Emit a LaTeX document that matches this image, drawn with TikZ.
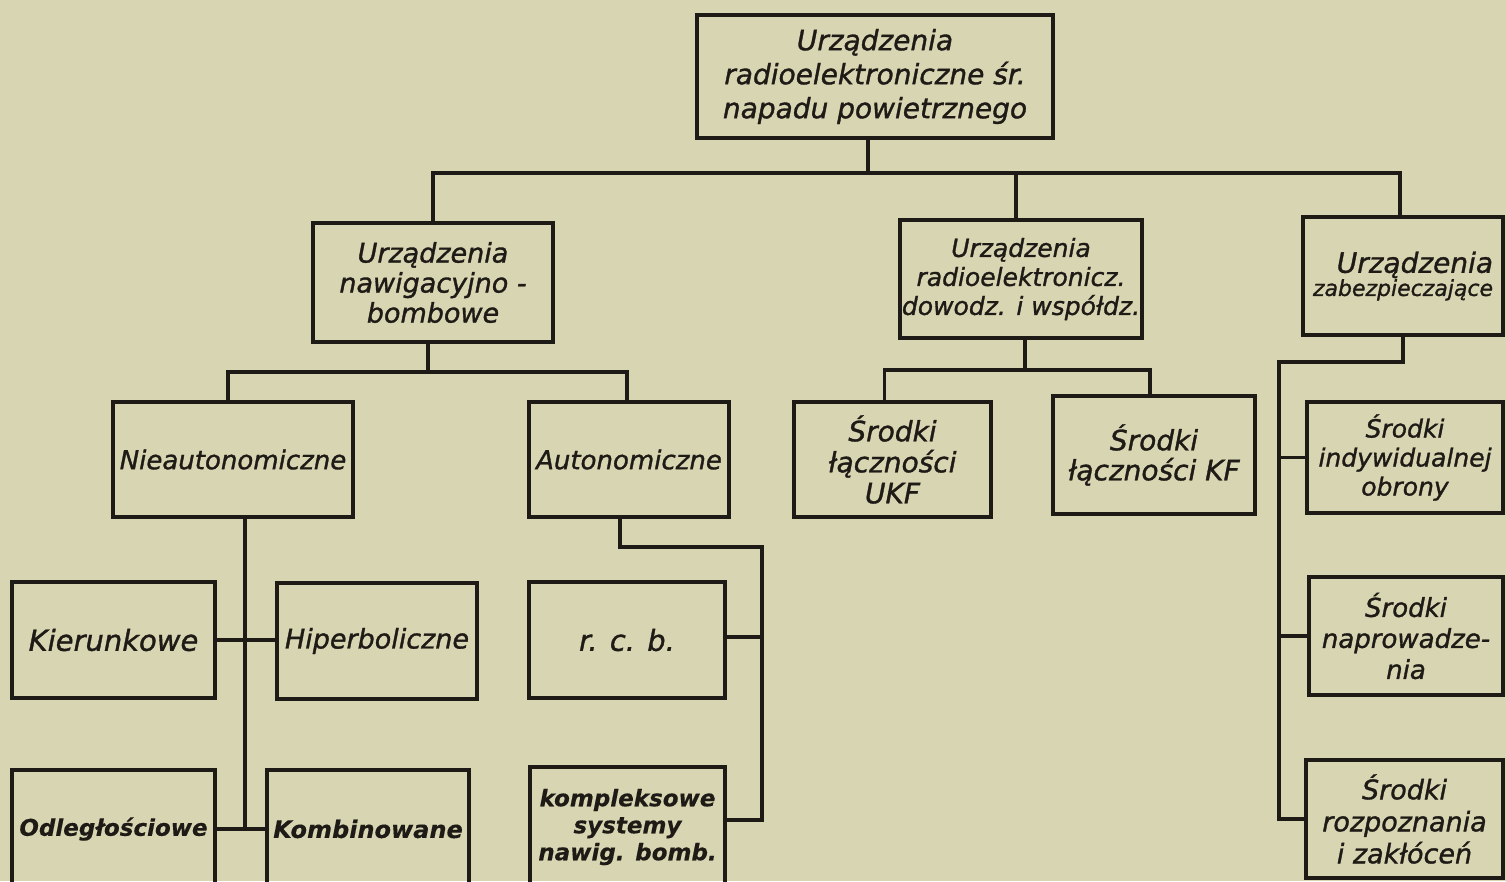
\documentclass[tikz,border=0pt]{standalone}
\usepackage{fontspec}
\setmainfont{DejaVu Sans}[ItalicFeatures={FakeBold=1.2}, BoldItalicFeatures={FakeBold=0.3}]
\usetikzlibrary{calc}
\definecolor{paper}{RGB}{216,214,178}
\definecolor{ink}{RGB}{30,26,22}
\newcommand{\fs}[2]{\fontsize{#1}{#2}\selectfont}
\begin{document}
\begin{tikzpicture}[x=1pt,y=-1pt,
  box/.style={draw=ink, line width=3.2pt, inner sep=0pt, outer sep=0pt, align=center, text=ink},
  link/.style={draw=ink, line width=3.2pt, line cap=rect}]
\fill[paper] (0,0) rectangle (1506,881);
\useasboundingbox (0,0) rectangle (1506,881);
\clip (0,0) rectangle (1506,881);

% level 0
\node[box, minimum width=356pt, minimum height=123pt, font=\itshape\fs{28}{34}] (top) at (875,76.5)
  {Urządzenia\\radioelektroniczne śr.\\napadu powietrznego};

% level 1
\node[box, minimum width=240pt, minimum height=119pt, font=\itshape\fs{27}{30}] (nawig) at (433,282.5)
  {Urządzenia\\nawigacyjno -\\bombowe};
\node[box, minimum width=242pt, minimum height=118pt, font=\itshape\fs{25}{29}] (dowodz) at (1021,279)
  {Urządzenia\\radioelektronicz.\\dowodz. i współdz.};
\node[box, minimum width=200pt, minimum height=118pt, font=\itshape, align=right] (zabezp) at (1403,276)
  {{\fs{28}{30}Urządzenia}\\{\fs{22}{28}zabezpieczające}};

% level 2 (nawig)
\node[box, minimum width=240pt, minimum height=115pt, font=\itshape\fs{26}{30}] (nieaut) at (233,459.5)
  {Nieautonomiczne};
\node[box, minimum width=200pt, minimum height=115pt, font=\itshape\fs{26}{30}] (autonom) at (629,459.5)
  {Autonomiczne};

% level 2 (dowodz)
\node[box, minimum width=197pt, minimum height=115pt, font=\itshape\fs{28}{31}] (ukf) at (892.5,459.5)
  {Środki\\łączności\\UKF};
\node[box, minimum width=202pt, minimum height=118pt, font=\itshape\fs{28}{30}] (kf) at (1154,455)
  {Środki\\łączności KF};

% level 2 (zabezp)
\node[box, minimum width=196pt, minimum height=111pt, font=\itshape\fs{25}{29}] (indyw) at (1405,457.5)
  {Środki\\indywidualnej\\obrony};
\node[box, minimum width=194pt, minimum height=118pt, font=\itshape\fs{26}{31}] (naprow) at (1406,636)
  {Środki\\naprowadze-\\nia};
\node[box, minimum width=197pt, minimum height=118pt, font=\itshape\fs{27}{32}] (rozp) at (1404.5,819)
  {Środki\\rozpoznania\\i zakłóceń};

% level 3 (nieaut)
\node[box, minimum width=203pt, minimum height=116pt, font=\itshape\fs{29}{30}] (kier) at (113.5,640)
  {Kierunkowe};
\node[box, minimum width=200pt, minimum height=116pt, font=\itshape\fs{27}{30}] (hiper) at (377,641)
  {Hiperboliczne};
\node[box, minimum width=203pt, minimum height=118pt, font=\bfseries\itshape\fs{23}{30}] (odl) at (113.5,829)
  {Odległościowe};
\node[box, minimum width=202pt, minimum height=118pt, font=\bfseries\itshape\fs{24}{30}] (kombin) at (368,829)
  {Kombinowane};

% level 3 (autonom)
\node[box, minimum width=196pt, minimum height=116pt, font=\itshape\fs{29}{30}] (rcb) at (627,640)
  {r. c. b.};
\node[box, minimum width=195pt, minimum height=120pt, font=\bfseries\itshape\fs{23}{27}] (kompl) at (627.5,827)
  {kompleksowe\\systemy\\nawig. bomb.};

% junction coordinates
\coordinate (bus) at (0,173);
\coordinate (bus2) at (0,372);
\coordinate (bus3) at (0,370);
\coordinate (ja) at (762,547);
\coordinate (jz) at (1279,362);

% connectors level 0 -> 1
\draw[link] ([xshift=-7pt]top.south) -- ([xshift=-7pt]top.south |- bus);
\draw[link] (nawig.north) -- (nawig.north |- bus) -- ([xshift=-3pt]zabezp.north |- bus) -- ([xshift=-3pt]zabezp.north);
\draw[link] ([xshift=-5pt]dowodz.north) -- ([xshift=-5pt]dowodz.north |- bus);

% nawig -> nieaut / autonom
\draw[link] ([xshift=-5pt]nawig.south) -- ([xshift=-5pt]nawig.south |- bus2);
\draw[link] ([xshift=-5pt]nieaut.north) -- ([xshift=-5pt]nieaut.north |- bus2) -- ([xshift=-2pt]autonom.north |- bus2) -- ([xshift=-2pt]autonom.north);

% nieaut -> children
\draw[link] ([xshift=12pt]nieaut.south) -- ([xshift=12pt]nieaut.south |- odl.east);
\draw[link] (kier.east) -- (kier.east -| hiper.west);
\draw[link] (odl.east) -- (kombin.west);

% autonom -> children
\draw[link] ([xshift=-9pt]autonom.south) |- (ja) |- ([yshift=7pt]kompl.east);
\draw[link] ([yshift=3pt]rcb.east) -- ([yshift=3pt]rcb.east -| ja);

% dowodz -> children
\draw[link] ([xshift=4pt]dowodz.south) -- ([xshift=4pt]dowodz.south |- bus3);
\draw[link] ([xshift=-8pt]ukf.north) -- ([xshift=-8pt]ukf.north |- bus3) -- ([xshift=-4pt]kf.north |- bus3) -- ([xshift=-4pt]kf.north);

% zabezp -> children
\draw[link] (zabezp.south) |- (jz) |- (rozp.west);
\draw[link] (indyw.west) -- (indyw.west -| jz);
\draw[link] (naprow.west) -- (naprow.west -| jz);
\end{tikzpicture}
\end{document}
